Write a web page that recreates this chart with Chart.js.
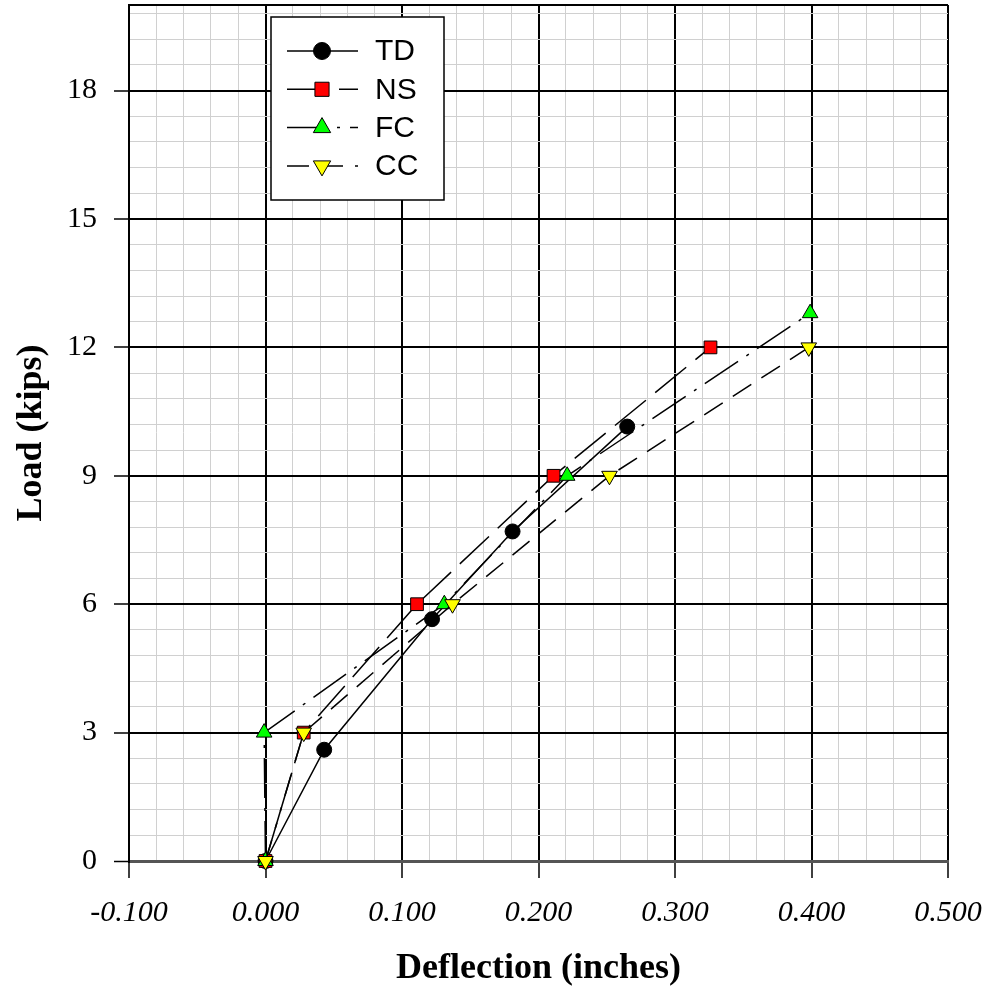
<!DOCTYPE html>
<html>
<head>
<meta charset="utf-8">
<title>Load vs Deflection</title>
<script src="https://cdn.jsdelivr.net/npm/chart.js@4.4.1/dist/chart.umd.min.js"></script>
<style>
  html, body { margin: 0; padding: 0; background: #fff; }
  canvas { display: block; }
</style>
</head>
<body>
<canvas id="loadChart" width="987" height="992"></canvas>
<script>
// data
const seriesNames = ["TD", "NS", "FC", "CC"];
const tdDeflection = [0, 0.043, 0.122, 0.181, 0.265];
const tdLoad = [0, 2.6, 5.65, 7.7, 10.15];
const nsDeflection = [0, 0.028, 0.111, 0.211, 0.326];
const nsLoad = [0, 3, 6, 9, 12];
const fcDeflection = [0, -0.001, 0.131, 0.221, 0.399];
const fcLoad = [0, 3, 6, 9, 12.8];
const ccDeflection = [0, 0.028, 0.137, 0.252, 0.398];
const ccLoad = [0, 3, 6, 9, 12];

// axes
const xMin = -0.1, xMax = 0.5, xMinorStep = 0.02, xMajorStep = 0.1;
const yMin = 0, yMax = 20, yMinorStep = 0.6, yMajorStep = 3;

const serif = "'Liberation Serif', 'Times New Roman', serif";
const sans = "'Liberation Sans', Arial, sans-serif";

function toPoints(xs, ys) {
  return xs.map((x, i) => ({ x: x, y: ys[i] }));
}

function isMajor(v, step) {
  return Math.abs(v / step - Math.round(v / step)) < 1e-6;
}

function buildTicks(min, max, step) {
  const ticks = [];
  const n = Math.floor((max - min) / step + 1e-9);
  for (let i = 0; i <= n; i++) ticks.push({ value: +(min + i * step).toFixed(3) });
  if (ticks[ticks.length - 1].value < max - 1e-9) ticks.push({ value: max });
  return ticks;
}

function gridColor(v, step, min, max) {
  if (v === min && min === yMin && step === yMajorStep) return "#555";
  return isMajor(v, step) || v === max ? "#000" : "#d0d0d0";
}

// legend drawn inside the plot, like the original
const insideLegend = {
  id: "insideLegend",
  afterDraw(chart) {
    const ctx = chart.ctx;
    const area = chart.chartArea;
    const bx = area.left + 142, by = area.top + 12, bw = 173, bh = 183;
    ctx.save();
    ctx.fillStyle = "#fff";
    ctx.fillRect(bx, by, bw, bh);
    ctx.strokeStyle = "#000";
    ctx.lineWidth = 1.5;
    ctx.strokeRect(bx, by, bw, bh);

    chart.data.datasets.forEach((ds, i) => {
      const y = by + 34 + i * 38.3;
      const x0 = bx + 16, x1 = bx + 87, mx = bx + 51;
      ctx.save();
      ctx.strokeStyle = "#000";
      ctx.lineWidth = ds.borderWidth;
      ctx.setLineDash(ds.borderDash || []);
      ctx.beginPath();
      ctx.moveTo(x0, y);
      ctx.lineTo(x1, y);
      ctx.stroke();
      ctx.restore();
      drawMarker(ctx, ds.pointStyle, ds.pointRotation || 0, ds.pointRadius + 1, mx, y, ds.pointBackgroundColor);
      ctx.fillStyle = "#000";
      ctx.font = "30px " + sans;
      ctx.textAlign = "left";
      ctx.textBaseline = "middle";
      ctx.fillText(ds.label, bx + 104, y + 1);
    });
    ctx.restore();
  }
};

function drawMarker(ctx, style, rotation, r, x, y, fill) {
  ctx.save();
  ctx.fillStyle = fill;
  ctx.strokeStyle = "#000";
  ctx.lineWidth = 1;
  ctx.beginPath();
  if (style === "circle") {
    ctx.arc(x, y, r, 0, Math.PI * 2);
  } else if (style === "rect") {
    const s = r * Math.SQRT1_2;
    ctx.rect(x - s, y - s, 2 * s, 2 * s);
  } else {
    let a = rotation * Math.PI / 180;
    ctx.moveTo(x + Math.sin(a) * r, y - Math.cos(a) * r);
    for (let k = 0; k < 2; k++) {
      a += Math.PI * 2 / 3;
      ctx.lineTo(x + Math.sin(a) * r, y - Math.cos(a) * r);
    }
    ctx.closePath();
  }
  ctx.fill();
  ctx.stroke();
  ctx.restore();
}

function makeSeries(label, xs, ys, style, color, radius, dash, order, rotation) {
  return {
    label: label,
    data: toPoints(xs, ys),
    showLine: true,
    borderColor: "#000",
    borderWidth: 1.5,
    borderDash: dash,
    pointStyle: style,
    pointRotation: rotation || 0,
    pointRadius: radius,
    pointHoverRadius: radius,
    pointBackgroundColor: color,
    pointBorderColor: "#000",
    pointBorderWidth: 1,
    order: order,
    clip: false
  };
}

const ctx = document.getElementById("loadChart");
new Chart(ctx, {
  type: "scatter",
  data: {
    datasets: [
      makeSeries(seriesNames[0], tdDeflection, tdLoad, "circle", "#000000", 7.5, [], 3),
      makeSeries(seriesNames[1], nsDeflection, nsLoad, "rect", "#ff0000", 9, [40, 12], 2),
      makeSeries(seriesNames[2], fcDeflection, fcLoad, "triangle", "#00ff00", 9, [40, 10, 3, 10], 1),
      makeSeries(seriesNames[3], ccDeflection, ccLoad, "triangle", "#ffff00", 9, [22, 12], 0, 180)
    ]
  },
  options: {
    responsive: false,
    animation: false,
    layout: { autoPadding: false, padding: { top: 5, right: 39, left: 0, bottom: 0 } },
    plugins: {
      legend: { display: false },
      tooltip: { enabled: false }
    },
    scales: {
      x: {
        type: "linear",
        min: xMin,
        max: xMax,
        afterBuildTicks: (s) => { s.ticks = buildTicks(xMin, xMax, xMinorStep); },
        afterFit: (s) => { s.height = 131; s.paddingLeft = 0; s.paddingRight = 0; },
        ticks: {
          autoSkip: false,
          maxRotation: 0,
          padding: 17,
          color: "#000",
          font: { family: serif, size: 30, style: "italic" },
          callback: (v) => isMajor(v, xMajorStep) ? v.toFixed(3) : ""
        },
        grid: {
          color: (c) => gridColor(c.tick.value, xMajorStep, xMin, xMax),
          lineWidth: (c) => isMajor(c.tick.value, xMajorStep) ? 2 : 1,
          tickLength: 17,
          tickColor: (c) => isMajor(c.tick.value, xMajorStep) ? "#000" : "rgba(0,0,0,0)",
          tickWidth: 1.5
        },
        border: { display: true, color: "#555", width: 3 },
        title: {
          display: true,
          text: "Deflection (inches)",
          color: "#000",
          font: { family: serif, size: 36, weight: "bold" },
          padding: { top: 0, bottom: 2 }
        }
      },
      y: {
        type: "linear",
        min: yMin,
        max: yMax,
        afterBuildTicks: (s) => { s.ticks = buildTicks(yMin, yMax, yMinorStep); },
        afterFit: (s) => { s.width = 129; s.paddingTop = 0; s.paddingBottom = 0; },
        ticks: {
          autoSkip: false,
          padding: 17,
          color: "#000",
          font: { family: serif, size: 30 },
          callback: (v) => isMajor(v, yMajorStep) ? String(Math.round(v)) : ""
        },
        grid: {
          color: (c) => gridColor(c.tick.value, yMajorStep, yMin, yMax),
          lineWidth: (c) => c.tick.value === yMin ? 3 : (isMajor(c.tick.value, yMajorStep) || c.tick.value === yMax ? 2 : 1),
          tickLength: 15,
          tickColor: (c) => isMajor(c.tick.value, yMajorStep) ? "#000" : "rgba(0,0,0,0)",
          tickWidth: 1.5
        },
        border: { display: true, color: "#000", width: 2 },
        title: {
          display: true,
          text: "Load (kips)",
          color: "#000",
          font: { family: serif, size: 36, weight: "bold" },
          padding: { top: 10, bottom: 0 }
        }
      }
    }
  },
  plugins: [insideLegend]
});
</script>
</body>
</html>
